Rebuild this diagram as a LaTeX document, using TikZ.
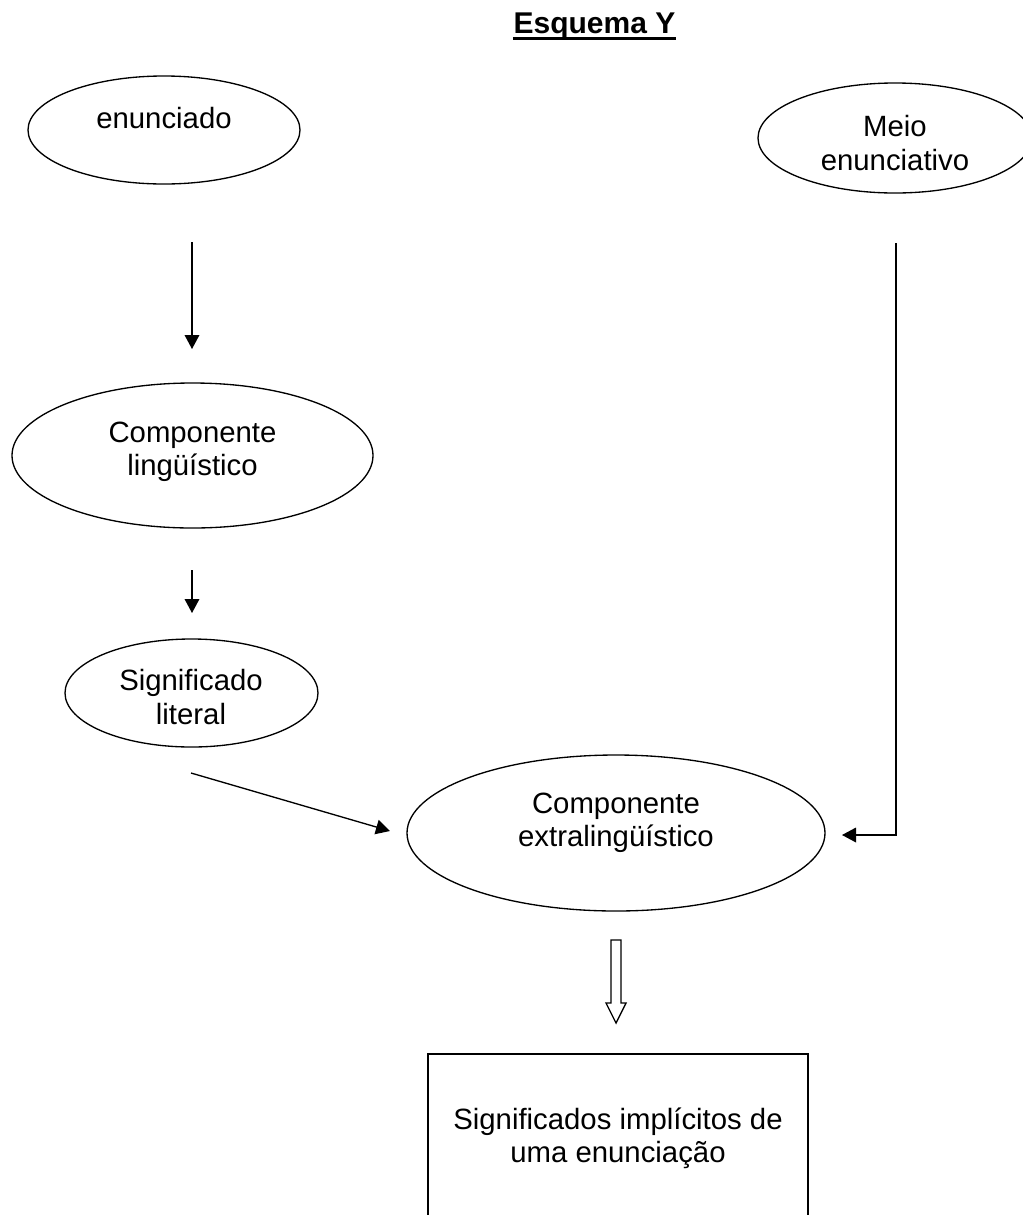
\documentclass[tikz,border=0pt]{standalone}
\usepackage{fontspec}
\setmainfont{Liberation Sans}
\usetikzlibrary{arrows.meta,shapes.geometric}
\begin{document}
\begin{tikzpicture}[x=0.75pt,y=-0.75pt,line width=1pt,
  ell/.style={draw,ellipse,inner sep=0pt},
  lbl/.style={anchor=base,inner sep=0pt,font=\fontsize{22}{26}\selectfont},
  arr/.style={-{Triangle[width=11pt,length=10.5pt]}},
  hollow/.style={draw,fill=white,line join=miter}]
\useasboundingbox (0,0) rectangle (1023,1215);
% title
\node[anchor=base,inner sep=0pt,font=\bfseries\fontsize{22.5}{27}\selectfont] (title) at (594.5,33) {Esquema Y};
\draw[line width=2.4pt] ([yshift=-4pt]title.base west) -- ([yshift=-4pt]title.base east);
% ellipses
\node[ell,minimum width=204pt,minimum height=81pt] (enun) at (164,130) {};
\node[lbl] (enunT) at (164,128) {enunciado};
\node[ell,minimum width=205.5pt,minimum height=82.5pt] (meio) at (895,138) {};
\node[lbl] (meioT1) at (895,136) {Meio};
\node[lbl] (meioT2) at (895,170) {enunciativo};
\node[ell,minimum width=270.75pt,minimum height=108.75pt] (cling) at (192.5,455.5) {};
\node[lbl] (clingT1) at (192.5,442) {Componente};
\node[lbl] (clingT2) at (192.5,475) {lingüístico};
\node[ell,minimum width=189.75pt,minimum height=81pt] (sig) at (191.5,693) {};
\node[lbl] (sigT1) at (191,690) {Significado};
\node[lbl] (sigT2) at (191,724) {literal};
\node[ell,minimum width=313.5pt,minimum height=117pt] (extra) at (616,833) {};
\node[lbl] (extraT1) at (616,813) {Componente};
\node[lbl] (extraT2) at (616,846) {extralingüístico};
% box
\node[draw,minimum width=285pt,minimum height=154.5pt,inner sep=0pt] (box) at (618,1157) {};
\node[lbl] (boxT1) at (618,1129) {Significados implícitos de};
\node[lbl] (boxT2) at (618,1162) {uma enunciação};
% connectors
\coordinate (a1s) at (192,242); \coordinate (a1e) at (192,349);
\coordinate (a2s) at (192,570); \coordinate (a2e) at (192,613);
\coordinate (a3s) at (191,773); \coordinate (a3e) at (390,831);
\coordinate (a4s) at (896,243); \coordinate (a4c) at (896,835); \coordinate (a4e) at (842,835);
\draw[arr] (a1s) -- (a1e);
\draw[arr] (a2s) -- (a2e);
\draw[arr] (a3s) -- (a3e);
\draw[arr] (a4s) -- (a4c) -- (a4e);
% hollow arrow
\coordinate (h) at (616,940);
\draw[hollow] (h) ++(-5,0) -- ++(10,0) -- ++(0,63) -- ++(5,0) -- ++(-10,20) -- ++(-10,-20) -- ++(5,0) -- cycle;
\end{tikzpicture}
\end{document}
